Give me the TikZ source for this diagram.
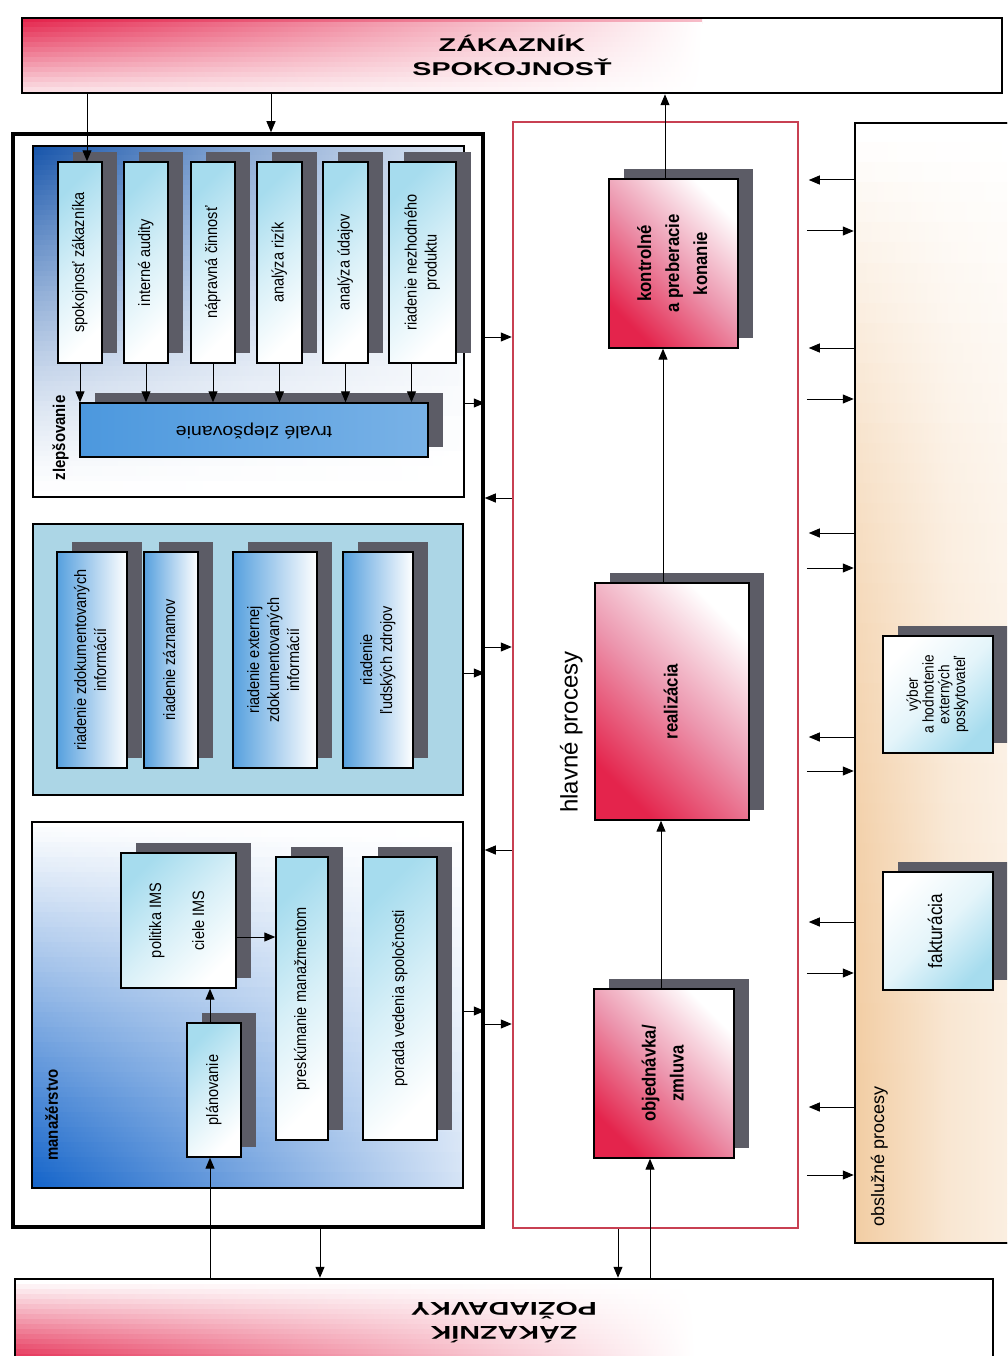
\documentclass[tikz,border=0pt]{standalone}
\usepackage{fontspec}
\usepackage{graphicx}
\setmainfont{Liberation Sans}
\newfontfamily\boxfont[FakeStretch=0.88]{Liberation Sans}
\newfontfamily\wideboxfont[FakeStretch=1.15]{Liberation Sans}
\newfontfamily\headfont[FakeStretch=1.55]{Liberation Sans}
\usetikzlibrary{arrows.meta,shadows}

\definecolor{imsred}{RGB}{228,36,76}
\definecolor{imspink}{RGB}{236,150,174}
\definecolor{framered}{RGB}{200,64,82}
\definecolor{darkblue}{RGB}{22,84,170}
\definecolor{manblue}{RGB}{14,96,200}
\definecolor{boxblue}{RGB}{86,160,222}
\definecolor{boxcyan}{RGB}{166,220,238}
\definecolor{trvblue}{RGB}{76,152,222}
\definecolor{riadfill}{RGB}{172,214,230}
\definecolor{shadegray}{RGB}{92,92,102}
\definecolor{peach}{RGB}{238,190,136}

\newcommand{\vtext}[1]{\rotatebox{90}{\begin{tabular}{@{}c@{}}#1\end{tabular}}}
\newcommand{\utext}[1]{\rotatebox{180}{\begin{tabular}{@{}c@{}}#1\end{tabular}}}

\tikzset{
  arr/.style={-{Triangle[length=11pt,width=9pt]}, line width=1pt},
  section/.style={draw, line width=2pt, inner sep=0pt, postaction={draw, line width=2pt}},
  box/.style={draw, line width=1.4pt, inner sep=0pt,
    drop shadow={shadow xshift=15pt, shadow yshift=10pt, fill=shadegray, opacity=1},
    font=\boxfont\fontsize{16.5}{20}\selectfont},
  cyanbox/.style={box, top color=boxcyan, bottom color=white, middle color=boxcyan!45!white, shading angle=45},
  bluebox/.style={box, left color=boxblue, right color=white},
  redbox/.style={box, top color=white, bottom color=imsred, middle color=imspink, shading angle=-45,
    font=\boxfont\bfseries\fontsize{19}{28}\selectfont},
  servbox/.style={box, top color=white, bottom color=boxcyan, middle color=boxcyan!30!white, shading angle=45},
  hdr/.style={draw, line width=2.5pt, inner sep=0pt, align=center, fill=white,
    postaction={draw, line width=2.5pt},
    font=\headfont\bfseries\fontsize{18.5}{24}\selectfont},
  lbl/.style={inner sep=0pt, font=\boxfont\bfseries\fontsize{17}{20}\selectfont},
  % strip shadings
  hdrtop/.style={path picture={
    \foreach \k in {0,...,14}{
      \pgfmathtruncatemacro\ca{100-6*\k}
      \pgfmathtruncatemacro\cb{0.5*\ca}
      \shade[left color=imsred!\ca!white, right color=white, middle color=imsred!\cb!white]
        ([yshift=-\k*5pt]path picture bounding box.north west) rectangle
        ([xshift=680pt,yshift=-\k*5pt-5.5pt]path picture bounding box.north west);
    }}},
  hdrbottom/.style={path picture={
    \foreach \k in {0,...,16}{
      \pgfmathtruncatemacro\ca{6*\k}
      \pgfmathtruncatemacro\cb{0.5*\ca}
      \shade[left color=imsred!\ca!white, right color=white, middle color=imsred!\cb!white]
        ([yshift=-\k*5pt]path picture bounding box.north west) rectangle
        ([xshift=680pt,yshift=-\k*5pt-5.5pt]path picture bounding box.north west);
    }}},
  zlepfill/.style={path picture={
    \foreach \k in {0,...,70}{
      \pgfmathtruncatemacro\ca{100*(1-\k/71)^1.4}
      \pgfmathtruncatemacro\cb{0.5*\ca}
      \pgfmathtruncatemacro\cc{0.15*\ca}
      \shade[left color=darkblue!\ca!white, right color=darkblue!\cc!white, middle color=darkblue!\cb!white]
        ([yshift=-\k*5pt]path picture bounding box.north west) rectangle
        ([yshift=-\k*5pt-5.5pt]path picture bounding box.north east);
    }}},
  manfill/.style={path picture={
    \foreach \k in {0,...,73}{
      \pgfmathtruncatemacro\ca{100*(\k+0.5)/74}
      \pgfmathtruncatemacro\cb{0.6*\ca}
      \pgfmathtruncatemacro\cc{0.18*\ca}
      \shade[left color=manblue!\ca!white, right color=manblue!\cc!white, middle color=manblue!\cb!white]
        ([yshift=-\k*5pt]path picture bounding box.north west) rectangle
        ([yshift=-\k*5pt-5.5pt]path picture bounding box.north east);
    }}},
  obslfill/.style={path picture={
    \foreach \k in {0,...,55}{
      \pgfmathtruncatemacro\ca{78*(1-(1-\k/56)^2.5)}
      \pgfmathtruncatemacro\cb{0.5*\ca}
      \pgfmathtruncatemacro\cc{0.25*\ca}
      \shade[left color=peach!\ca!white, right color=peach!\cc!white, middle color=peach!\cb!white]
        ([yshift=-\k*20pt]path picture bounding box.north west) rectangle
        ([yshift=-\k*20pt-20.5pt]path picture bounding box.north east);
    }}},
}

\begin{document}
\begin{tikzpicture}[x=1pt,y=-1pt]
\useasboundingbox (0,0) rectangle (1007,1356);
\clip (0,0) rectangle (1007,1356);

% zakaznik
\node[hdr, hdrtop, minimum width=980pt, minimum height=75pt] (zak1) at (512,55.5) {ZÁKAZNÍK\\SPOKOJNOSŤ};
\node[hdr, hdrbottom, minimum width=978pt, minimum height=81pt] (zak2) at (504,1319.5) {\utext{ZÁKAZNÍK\\POŽIADAVKY}};

%------------------------------------------------
\node[draw, line width=3.5pt, minimum width=470pt, minimum height=1093pt] (ims) at (248,680.5) {};
\node[section, fill=white, zlepfill, minimum width=431pt, minimum height=351pt] (zlep) at (248.5,321.5) {};
\node[section, fill=riadfill, minimum width=430pt, minimum height=271pt] (riad) at (248,659.5) {};
\node[section, fill=white, manfill, minimum width=431pt, minimum height=366pt] (man) at (247.5,1005) {};

% zlepsovanie
\node[cyanbox, minimum width=44pt, minimum height=201pt] (spok) at (80,262.5) {\vtext{spokojnosť zákazníka}};
\node[cyanbox, minimum width=44pt, minimum height=201pt] (audit) at (146,262.5) {\vtext{interné audity}};
\node[cyanbox, minimum width=44pt, minimum height=201pt] (naprav) at (213,262.5) {\vtext{nápravná činnosť}};
\node[cyanbox, minimum width=45pt, minimum height=201pt] (riziko) at (279.5,262.5) {\vtext{analýza rizík}};
\node[cyanbox, minimum width=45pt, minimum height=201pt] (udaje) at (345.5,262.5) {\vtext{analýza údajov}};
\node[cyanbox, minimum width=67pt, minimum height=201pt] (nezhod) at (422.5,262.5) {\vtext{riadenie nezhodného\\produktu}};
\node[box, left color=trvblue, middle color=white!78!trvblue, right color=trvblue!75!white,
  minimum width=348pt, minimum height=54pt, font=\wideboxfont\fontsize{17}{20}\selectfont]
  (trv) at (254,430) {\utext{trvalé zlepšovanie}};
\node[lbl] (lzlep) at (61,438) {\vtext{zlepšovanie}};

% riadenie
\node[bluebox, minimum width=70pt, minimum height=216pt] (rzdok) at (92,660) {\vtext{riadenie zdokumentovaných\\informácií}};
\node[bluebox, minimum width=54pt, minimum height=216pt] (rzazn) at (171,660) {\vtext{riadenie záznamov}};
\node[bluebox, minimum width=84pt, minimum height=216pt] (rext) at (275,660) {\vtext{riadenie externej\\zdokumentovaných\\informácií}};
\node[bluebox, minimum width=70pt, minimum height=216pt] (rludi) at (378,660) {\vtext{riadenie\\ľudských zdrojov}};

% manazerstvo
\node[cyanbox, minimum width=115pt, minimum height=135pt] (polit) at (178.5,920.5) {\vtext{politika IMS\\[23pt]ciele IMS}};
\node[cyanbox, minimum width=54pt, minimum height=134pt] (plan) at (214,1090) {\vtext{plánovanie}};
\node[cyanbox, minimum width=52pt, minimum height=283pt] (presk) at (302,998.5) {\vtext{preskúmanie manažmentom}};
\node[cyanbox, minimum width=74pt, minimum height=283pt] (porada) at (400,998.5) {\vtext{porada vedenia spoločnosti}};
\node[lbl] (lman) at (54,1115) {\vtext{manažérstvo}};

% hlavne procesy
\node[draw=framered, line width=2.5pt, minimum width=285pt, minimum height=1106pt] (hlav) at (655.5,675) {};
\node[redbox, minimum width=129pt, minimum height=169pt] (kontr) at (673.5,263.5) {\vtext{kontrolné\\a preberacie\\konanie}};
\node[redbox, minimum width=154pt, minimum height=237pt] (real) at (672,701.5) {\vtext{realizácia}};
\node[redbox, minimum width=140pt, minimum height=169pt] (objed) at (664,1073.5) {\vtext{objednávka/\\zmluva}};
\node[inner sep=0pt, font=\fontsize{24}{28}\selectfont] (lhlav) at (572,732) {\vtext{hlavné procesy}};

% obsluzne procesy
\node[draw, line width=2.5pt, fill=white, obslfill, postaction={draw, line width=2.5pt},
  minimum width=185pt, minimum height=1120pt] (obsl) at (947.5,683) {};
\node[servbox, minimum width=110pt, minimum height=117pt, font=\boxfont\fontsize{15.5}{15}\selectfont]
  (vyber) at (938,694.5) {\vtext{výber\\a hodnotenie\\externých\\poskytovateľ}};
\node[servbox, minimum width=110pt, minimum height=118pt, font=\boxfont\fontsize{19.5}{20}\selectfont]
  (faktur) at (938,931) {\vtext{fakturácia}};
\node[inner sep=0pt, font=\fontsize{18}{20}\selectfont] (lobsl) at (880,1156) {\vtext{obslužné procesy}};

%------------------------------------------------
\draw[arr] ([xshift=7pt]spok.north |- zak1.south) -- ([xshift=7pt]spok.north);
\draw[arr] ([xshift=23pt]ims.north |- zak1.south) -- ([xshift=23pt]ims.north);
\draw[arr] ([xshift=-8.5pt]kontr.north) -- ([xshift=-8.5pt]kontr.north |- zak1.south);
\draw[arr] ([xshift=-9pt]real.north) -- ([xshift=-9pt]real.north |- kontr.south);
\draw[arr] ([xshift=-3pt]objed.north) -- ([xshift=-3pt]objed.north |- real.south);
\draw[arr] ([xshift=-14pt]objed.south |- zak2.north) -- ([xshift=-14pt]objed.south);
\draw[arr] ([xshift=-37.5pt]hlav.south) -- ([xshift=-37.5pt]hlav.south |- zak2.north);
\draw[arr] ([xshift=72pt]ims.south) -- ([xshift=72pt]ims.south |- zak2.north);
\draw[arr] ([xshift=-4pt]plan.south |- zak2.north) -- ([xshift=-4pt]plan.south);
\draw[arr] ([xshift=-4pt]plan.north) -- ([xshift=-4pt]plan.north |- polit.south);
\draw[arr] ([yshift=-16.5pt]polit.east) -- ([yshift=-16.5pt]polit.east -| presk.west);

\foreach \n in {spok,audit,naprav,riziko,udaje}
  \draw[arr] (\n.south) -- (\n.south |- trv.north);
\draw[arr] ([xshift=-11pt]nezhod.south) -- ([xshift=-11pt]nezhod.south |- trv.north);

\foreach \y in {337,647,1024}
  \draw[arr] (ims.east |- 0,\y) -- (hlav.west |- 0,\y);
\foreach \y in {498,850}
  \draw[arr] (hlav.west |- 0,\y) -- (ims.east |- 0,\y);
\draw[arr] (zlep.east |- 0,403) -- (ims.east |- 0,403);
\draw[arr] (riad.east |- 0,673) -- (ims.east |- 0,673);
\draw[arr] (man.east |- 0,1011) -- (ims.east |- 0,1011);

\foreach \y in {180,348,533,737,922,1107}
  \draw[arr] (obsl.west |- 0,\y) -- ++(-45,0);
\foreach \y in {231,399,568,771,973,1175}
  \draw[arr] ([xshift=-47pt]obsl.west |- 0,\y) -- (obsl.west |- 0,\y);
\end{tikzpicture}
\end{document}
